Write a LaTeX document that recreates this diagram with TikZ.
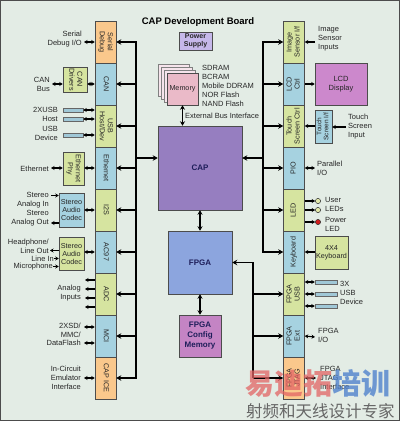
\documentclass[tikz,border=0pt]{standalone}
\usepackage{fontspec}
\setmainfont{Liberation Sans}
\newfontfamily\cjk{Noto Sans CJK SC}
\usetikzlibrary{arrows.meta}
\definecolor{bg}{RGB}{227,236,229}
\definecolor{cor}{RGB}{250,200,140}
\definecolor{cbl}{RGB}{166,210,224}
\definecolor{cgr}{RGB}{214,228,160}
\definecolor{capc}{RGB}{150,126,192}
\definecolor{fpgac}{RGB}{140,165,222}
\definecolor{cfgc}{RGB}{196,132,196}
\definecolor{lcdc}{RGB}{204,136,204}
\definecolor{pwrc}{RGB}{198,184,234}
\definecolor{memc}{RGB}{234,186,200}
\definecolor{memb}{RGB}{246,228,236}
\definecolor{portc}{RGB}{160,200,215}
\definecolor{navy}{RGB}{30,30,90}
\definecolor{ledg}{RGB}{225,232,170}
\definecolor{ledr}{RGB}{210,30,30}
\definecolor{wmred}{RGB}{226,100,100}
\definecolor{wmblue}{RGB}{80,130,205}
\newcommand{\rotL}[1]{\rotatebox{-90}{\begin{tabular}{@{}c@{}}#1\end{tabular}}}
\newcommand{\rotR}[1]{\rotatebox{90}{\begin{tabular}{@{}c@{}}#1\end{tabular}}}
\tikzset{
  blk/.style={draw=black!70, line width=0.5pt, minimum width=21pt, minimum height=42pt, inner sep=0pt, text=black!85, font=\fontsize{7.2}{8}\selectfont},
  sbox/.style={draw=black!70, line width=0.5pt, inner sep=0pt, text=black!85, align=center, font=\fontsize{7.2}{8}\selectfont},
  port/.style={draw=black!60, line width=0.4pt, fill=portc, inner sep=0pt, minimum height=4pt},
  lab/.style={inner sep=0pt, text=black!85, font=\fontsize{7.5}{9}\selectfont},
  bigbox/.style={draw=black!70, line width=0.5pt, inner sep=0pt, text=navy, align=center, font=\bfseries\fontsize{8}{10}\selectfont},
  busline/.style={line width=1.8pt, line cap=rect},
  bus/.style={line width=1.8pt, -{Stealth[length=5pt,width=5.5pt]}},
  dbus/.style={line width=1.5pt, {Stealth[length=4.5pt,width=5pt]}-{Stealth[length=4.5pt,width=5pt]}},
  sa/.style={line width=1.1pt, -{Stealth[length=3.5pt,width=4pt]}},
  dsa/.style={line width=1.1pt, {Stealth[length=3.5pt,width=4pt]}-{Stealth[length=3.5pt,width=4pt]}},
  ledc/.style={circle, draw=black!80, line width=0.5pt, minimum size=5.2pt, inner sep=0pt}
}
\begin{document}
\begin{tikzpicture}[x=1pt,y=-1pt]
\path[fill=bg, draw=black!70, line width=1pt] (0.5,0.5) rectangle (399.5,420.5);
\useasboundingbox (0,0) rectangle (400,421);

\node[font=\bfseries\fontsize{9.5}{10}\selectfont] (title) at (198,22) {CAP Development Board};

% central blocks
\node[bigbox, fill=capc, minimum width=84pt, minimum height=84pt] (cap) at (200,168) {CAP};
\node[bigbox, fill=fpgac, minimum width=64pt, minimum height=63pt] (fpga) at (200,262.5) {FPGA};
\node[bigbox, fill=cfgc, minimum width=42pt, minimum height=42pt] (cfg) at (200,336) {FPGA\\Config\\Memory};
\node[bigbox, fill=pwrc, text=black!85, minimum width=33pt, minimum height=18pt, font=\bfseries\fontsize{7}{8}\selectfont] (pwr) at (195.5,41) {Power\\Supply};

\node[draw=black!50, fill=memb, minimum width=31pt, minimum height=32pt] (mem3) at (173.5,80) {};
\node[draw=black!50, fill=memb, minimum width=31pt, minimum height=32pt] (mem2) at (176.5,83) {};
\node[draw=black!50, fill=memb, minimum width=31pt, minimum height=32pt] (mem1) at (179.5,86) {};
\node[sbox, fill=memc, minimum width=31pt, minimum height=32pt] (mem) at (182.5,89) {Memory};
\node[lab, anchor=west, align=left] (memlist) at (202,86) {SDRAM\\BCRAM\\Mobile DDRAM\\NOR Flash\\NAND Flash};
\draw[dbus] (mem.south) -- (mem.south |- cap.north);
\node[lab, anchor=west] (ebi) at (185,116) {External Bus Interface};
\draw[dbus] (cap.south) -- (fpga.north);
\draw[dbus] (fpga.south) -- (cfg.north);

% left column
\node[blk,fill=cor] (sd) at (105.5,42) {\rotL{Serial\\Debug}};
\node[blk,fill=cbl] (can) at (105.5,84) {\rotL{CAN}};
\node[blk,fill=cgr] (usb) at (105.5,126) {\rotL{USB\\Host/Dev}};
\node[blk,fill=cbl] (eth) at (105.5,168) {\rotL{Ethernet}};
\node[blk,fill=cgr] (iis) at (105.5,210) {\rotL{I2S}};
\node[blk,fill=cbl] (ac) at (105.5,252) {\rotL{AC97}};
\node[blk,fill=cgr] (adc) at (105.5,294) {\rotL{ADC}};
\node[blk,fill=cbl] (mci) at (105.5,336) {\rotL{MCI}};
\node[blk,fill=cor] (ice) at (105.5,378) {\rotL{CAP ICE}};

% right column
\node[blk,fill=cgr] (isi) at (294,42) {\rotR{Image\\Sensor I/f}};
\node[blk,fill=cbl] (lcd) at (294,84) {\rotR{LCD\\Ctrl}};
\node[blk,fill=cgr] (tsc) at (294,126) {\rotR{Touch\\Screen Ctrl}};
\node[blk,fill=cbl] (pio) at (294,168) {\rotR{PIO}};
\node[blk,fill=cgr] (led) at (294,210) {\rotR{LED}};
\node[blk,fill=cbl] (kb) at (294,252) {\rotR{Keyboard}};
\node[blk,fill=cgr] (fusb) at (294,294) {\rotR{FPGA\\USB}};
\node[blk,fill=cbl] (fext) at (294,336) {\rotR{FPGA\\Ext}};
\node[blk,fill=cor] (jtag) at (294,378) {\rotR{FPGA\\JTAG}};

% buses
\coordinate (bL) at (136,0);
\coordinate (bR) at (263,0);
\coordinate (bF) at (253,0);
\draw[busline] (bL |- sd) -- (bL |- ice);
\foreach \n in {sd,can,usb,eth,iis,ac,adc,mci,ice} \draw[bus] (bL |- \n) -- (\n.east);
\draw[bus] ([yshift=10pt]cap.west -| bL) -- ([yshift=10pt]cap.west);
\draw[busline] (bR |- isi) -- (bR |- kb);
\foreach \n in {isi,lcd,tsc,pio,led,kb} \draw[bus] (bR |- \n) -- (\n.west);
\draw[bus] ([yshift=10pt]cap.east -| bR) -- ([yshift=10pt]cap.east);
\draw[bus] (bF |- jtag) -- (bF |- fpga) -- (fpga.east);
\foreach \n in {fusb,fext,jtag} \draw[bus] (bF |- \n) -- (\n.west);

% left peripherals
\node[lab, anchor=east, align=right] (sdl) at (82,39.5) {Serial\\Debug I/O};
\coordinate (sdp) at (84,42);
\draw[dsa] (sd.west) -- (sdp);

\node[sbox, fill=cgr, minimum width=24pt, minimum height=25pt] (cand) at (75,79.5) {\rotL{CAN\\Drivers}};
\draw[dsa] (cand.east |- can.west) -- (can.west);
\node[lab, anchor=east, align=right] (canl) at (50,84.5) {CAN\\Bus};
\coordinate (canp) at (52,84);
\draw[dsa] (cand.west |- can.west) -- (canp);

\node[port, minimum width=20pt] (up1) at (73,110) {};
\node[port, minimum width=20pt] (up2) at (73,119) {};
\node[port, minimum width=20pt] (up3) at (73,135) {};
\foreach \p in {up1,up2,up3} \draw[dsa] (\p.east) -- (usb.west |- \p);
\node[lab, anchor=east, align=right] (usbl1) at (58,114.5) {2XUSB\\Host};
\node[lab, anchor=east, align=right] (usbl2) at (58,133.5) {USB\\Device};

\node[sbox, fill=cgr, minimum width=21pt, minimum height=33pt] (ephy) at (73.5,168.5) {\rotL{Ethernet\\Phy}};
\draw[dsa] (ephy.east |- eth) -- (eth.west);
\node[lab, anchor=east] (ethl) at (49,168.5) {Ethernet};
\coordinate (ethp) at (51,168);
\draw[dsa] (ephy.west |- eth) -- (ethp);

\node[sbox, fill=cbl, minimum width=25pt, minimum height=34pt] (cod1) at (71.5,210) {Stereo\\Audio\\Codec};
\draw[dsa] (cod1.east |- iis) -- (iis.west);
\node[lab, anchor=east, align=right] (ail) at (49,200) {Stereo\\Analog In};
\node[lab, anchor=east, align=right] (aol) at (49,218.5) {Stereo\\Analog Out};
\coordinate (ainp) at (51,195.5);
\coordinate (aoutp) at (51,223);
\draw[sa] (ainp) -- (cod1.west |- ainp);
\draw[sa] (cod1.west |- aoutp) -- (aoutp);

\node[sbox, fill=cgr, minimum width=25pt, minimum height=33pt] (cod2) at (71.5,254) {Stereo\\Audio\\Codec};
\draw[dsa] (cod2.east |- ac) -- (ac.west);
\node[lab, anchor=east, align=right, font=\fontsize{7.5}{8.5}\selectfont] (hpl) at (49,246.2) {Headphone/\\Line Out};
\node[lab, anchor=east] (linl) at (54,258.5) {Line In};
\node[lab, anchor=east] (micl) at (53,266.5) {Microphone};
\coordinate (loutp) at (50,250.5);
\draw[sa] (cod2.west |- loutp) -- (loutp);
\draw[sa] (linl.east) -- (cod2.west |- linl.east);
\draw[sa] (micl.east) -- (cod2.west |- micl.east);

\node[lab, anchor=east, align=right] (adcl) at (81,293.5) {Analog\\Inputs};
\coordinate (a1) at (85,280);
\coordinate (a2) at (85,289);
\coordinate (a3) at (85,298);
\coordinate (a4) at (85,307);
\foreach \a in {a1,a2,a3,a4} \draw[sa] (adc.west |- \a) -- (\a);

\node[lab, anchor=east, align=right, font=\fontsize{7.5}{8.5}\selectfont] (mcil) at (81,334.5) {2XSD/\\MMC/\\DataFlash};
\coordinate (m1) at (84,327);
\coordinate (m2) at (84,343);
\draw[dsa] (mci.west |- m1) -- (m1);
\draw[dsa] (mci.west |- m2) -- (m2);

\node[lab, anchor=east, align=right] (icel) at (81,378) {In-Circuit\\Emulator\\Interface};
\coordinate (icep) at (84,378);
\draw[dsa] (ice.west) -- (icep);

% right peripherals
\node[lab, anchor=west, align=left] (isil) at (318,38.5) {Image\\Sensor\\Inputs};
\coordinate (isip) at (315,42);
\draw[sa] (isip) -- (isi.east);

\node[sbox, fill=lcdc, minimum width=52pt, minimum height=42pt, font=\fontsize{7.5}{9}\selectfont] (lcdd) at (341,84) {LCD\\Display};
\draw[sa] (lcd.east) -- (lcdd.west);

\node[sbox, fill=cbl, minimum width=17pt, minimum height=33pt, font=\fontsize{6.5}{7}\selectfont] (tsif) at (323.5,126.5) {\rotR{Touch\\Screen I/f}};
\draw[sa] (tsif.west |- tsc) -- (tsc.east);
\node[lab, anchor=west, align=left] (tsil) at (348,127) {Touch\\Screen\\Input};
\coordinate (tsip) at (346,127);
\draw[sa] (tsip) -- (tsif.east |- tsip);

\node[lab, anchor=west, align=left] (piol) at (317,168.5) {Parallel\\I/O};
\coordinate (piop) at (315,168);
\draw[dsa] (pio.east) -- (piop);

\node[ledc, fill=ledg] (l1) at (318,201) {};
\node[ledc, fill=ledg] (l2) at (318,210) {};
\node[ledc, fill=ledr] (l3) at (318,222) {};
\foreach \l in {l1,l2,l3} \draw[sa] (led.east |- \l) -- (\l.west);
\node[lab, anchor=west, align=left] (ledl1) at (325,204.5) {User\\LEDs};
\node[lab, anchor=west, align=left] (ledl2) at (325,224) {Power\\LED};

\node[sbox, fill=cgr, minimum width=33pt, minimum height=33pt] (kbd) at (331.5,252.5) {4X4\\Keyboard};
\draw[sa] (kbd.west |- kb) -- (kb.east);

\node[port, minimum width=22pt] (fp1) at (326,282) {};
\node[port, minimum width=22pt] (fp2) at (326,294) {};
\node[port, minimum width=22pt] (fp3) at (326,306) {};
\foreach \p in {fp1,fp2,fp3} \draw[dsa] (fusb.east |- \p) -- (\p.west);
\node[lab, anchor=west, align=left] (fusbl) at (340,292.5) {3X\\USB\\Device};

\node[lab, anchor=west, align=left] (fextl) at (318,335.5) {FPGA\\I/O};
\coordinate (fextp) at (315,337);
\draw[dsa] (fext.east) -- (fextp);

\node[lab, anchor=west, align=left] (jtagl) at (320,378) {FPGA\\JTAG\\Interface};
\coordinate (jtagp) at (316,378);
\draw[dsa] (jtag.east) -- (jtagp);

% watermark
\node[anchor=west, inner sep=0pt, text=wmred, opacity=0.75, font=\cjk\bfseries\fontsize{29}{29}\selectfont] (wm1) at (245,383.5) {易迪拓};
\node[anchor=west, inner sep=0pt, text=wmblue, opacity=0.8, font=\cjk\bfseries\fontsize{29}{29}\selectfont] (wm2) at (wm1.east) {培训};
\node[anchor=west, inner sep=0pt, text=black!60, font=\cjk\fontsize{16.5}{17}\selectfont] (wm3) at (246,411) {射频和天线设计专家};
\end{tikzpicture}
\end{document}
